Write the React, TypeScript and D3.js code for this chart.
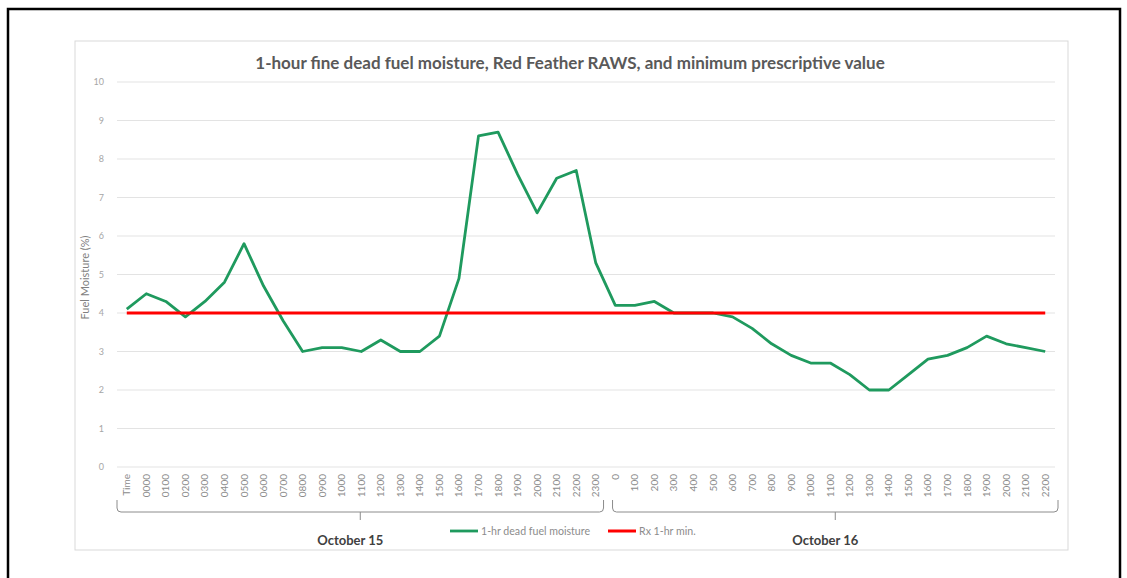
import React from "react";
import * as d3 from "d3";

// Hour labels for each day of the burn window
const oct15Hours = [
  "Time", "0000", "0100", "0200", "0300", "0400", "0500", "0600", "0700", "0800",
  "0900", "1000", "1100", "1200", "1300", "1400", "1500", "1600", "1700", "1800",
  "1900", "2000", "2100", "2200", "2300",
];
const oct16Hours = [
  "0", "100", "200", "300", "400", "500", "600", "700", "800", "900", "1000",
  "1100", "1200", "1300", "1400", "1500", "1600", "1700", "1800", "1900", "2000",
  "2100", "2200",
];
const dayLabels = ["October 15", "October 16"];

// 1-hr dead fuel moisture (%) at Red Feather RAWS
const fuelMoisture = [
  4.1, 4.5, 4.3, 3.9, 4.3, 4.8, 5.8, 4.7, 3.8, 3.0,
  3.1, 3.1, 3.0, 3.3, 3.0, 3.0, 3.4, 4.9, 8.6, 8.7,
  7.6, 6.6, 7.5, 7.7, 5.3,
  4.2, 4.2, 4.3, 4.0, 4.0, 4.0, 3.9, 3.6, 3.2, 2.9,
  2.7, 2.7, 2.4, 2.0, 2.0, 2.4, 2.8, 2.9, 3.1, 3.4,
  3.2, 3.1, 3.0,
];
// Prescription minimum for 1-hr fuels (%)
const rxMinimum = 4;
const yTicks = [0, 1, 2, 3, 4, 5, 6, 7, 8, 9, 10];

const title =
  "1-hour fine dead fuel moisture, Red Feather RAWS, and minimum prescriptive value";
const seriesNames = ["1-hr dead fuel moisture", "Rx 1-hr min."];
const GREEN = "#1f9a5e";
const RED = "#ff0000";
const FONT = "Lato, 'Open Sans', sans-serif";

type Cat = { key: string; label: string; day: number };

const cats: Cat[] = [
  ...oct15Hours.map((h) => ({ key: `15-${h}`, label: h, day: 0 })),
  ...oct16Hours.map((h) => ({ key: `16-${h}`, label: h, day: 1 })),
];

export default function App() {
  const W = 1127;
  const H = 578;
  const plot = { left: 117, right: 1055, top: 82, bottom: 467 };

  const x = d3
    .scaleBand<string>()
    .domain(cats.map((c) => c.key))
    .range([plot.left, plot.right])
    .padding(0);
  const y = d3.scaleLinear().domain([0, 10]).range([plot.bottom, plot.top]);
  const cx = (k: string) => (x(k) as number) + x.bandwidth() / 2;

  const moisturePts: [number, number][] = cats.map((c, i) => [cx(c.key), y(fuelMoisture[i])]);
  const rxPts: [number, number][] = cats.map((c) => [cx(c.key), y(rxMinimum)]);
  const line = d3.line<[number, number]>();

  // bracket spans for the two day groups
  const firstOct16 = x(cats[oct15Hours.length].key) as number;
  const spans = [
    [plot.left, firstOct16 - 2],
    [firstOct16 + 7, plot.right + 3],
  ];
  const bTop = 500;
  const bY = 512;

  const bracket = (a: number, b: number) => {
    const r = 4;
    const mid = (a + b) / 2;
    return [
      `M${a},${bTop} L${a},${bY - r} Q${a},${bY} ${a + r},${bY}`,
      `L${b - r},${bY} Q${b},${bY} ${b},${bY - r} L${b},${bTop}`,
      `M${mid},${bY} L${mid},${bY + 8}`,
    ].join(" ");
  };

  return (
    <svg
      width={W}
      height={H}
      style={{ position: "absolute", left: 0, top: 0, background: "#fff" }}
      fontFamily={FONT}
    >
      {/* outer frame */}
      <rect x={8} y={9} width={1112} height={620} fill="none" stroke="#000" strokeWidth={2.5} />
      {/* chart area */}
      <rect x={75} y={41} width={993} height={509} fill="#fff" stroke="#d9d9d9" strokeWidth={1} />

      <text x={570} y={69} textAnchor="middle" fontSize={17} fontWeight={700} fill="#595959">
        {title}
      </text>

      {/* gridlines and y ticks */}
      {yTicks.map((t) => (
        <g key={t}>
          <line x1={plot.left} x2={plot.right} y1={y(t)} y2={y(t)} stroke="#e3e3e3" strokeWidth={1} />
          <text x={104} y={y(t) + 3} textAnchor="end" fontSize={9} fill="#a6a6a6">
            {t}
          </text>
        </g>
      ))}

      <text
        transform={`translate(89,${(plot.top + plot.bottom) / 2 + 3}) rotate(-90)`}
        textAnchor="middle"
        fontSize={11}
        fill="#808080"
      >
        Fuel Moisture (%)
      </text>

      {/* series */}
      <path d={line(moisturePts) as string} fill="none" stroke={GREEN} strokeWidth={2.8} strokeLinejoin="round" />
      <path d={line(rxPts) as string} fill="none" stroke={RED} strokeWidth={3} />

      {/* hour labels */}
      {cats.map((c) => (
        <text
          key={c.key}
          transform={`translate(${cx(c.key) + 3.5},474) rotate(-90)`}
          textAnchor="end"
          fontSize={10}
          fill="#8c8c8c"
        >
          {c.label}
        </text>
      ))}

      {/* day group brackets */}
      {spans.map(([a, b], i) => (
        <g key={i}>
          <path d={bracket(a, b)} fill="none" stroke="#8c8c8c" strokeWidth={1} />
          <text x={(a + b) / 2 - 10} y={545} textAnchor="middle" fontSize={13} fontWeight={700} fill="#404040">
            {dayLabels[i]}
          </text>
        </g>
      ))}

      {/* legend */}
      <line x1={450} x2={478} y1={531} y2={531} stroke={GREEN} strokeWidth={2.8} />
      <text x={481} y={534.5} fontSize={10.6} fill="#8c8c8c">
        {seriesNames[0]}
      </text>
      <line x1={608} x2={636} y1={531} y2={531} stroke={RED} strokeWidth={3} />
      <text x={639} y={534.5} fontSize={10.6} fill="#8c8c8c">
        {seriesNames[1]}
      </text>
    </svg>
  );
}
